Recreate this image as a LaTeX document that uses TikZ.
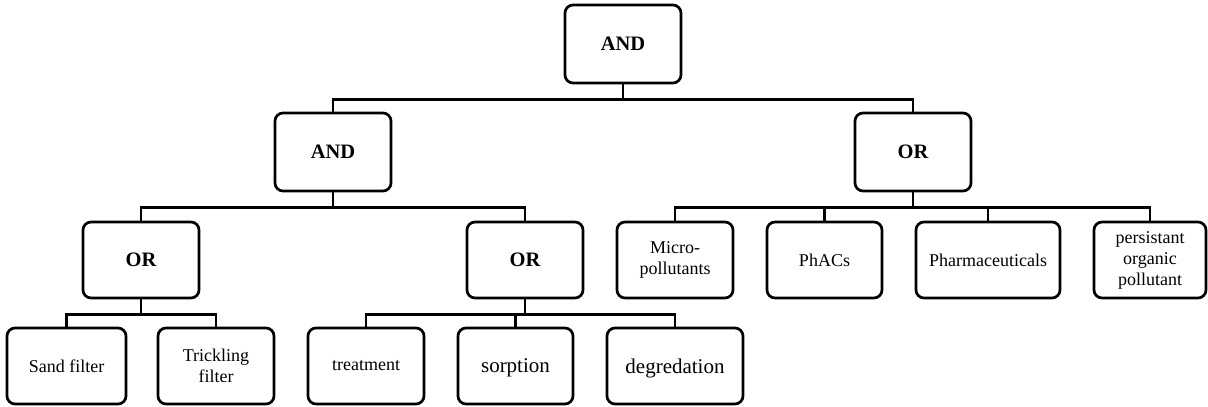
\documentclass[tikz,border=0pt]{standalone}
\usepackage{fontspec}
\setmainfont{Liberation Serif}
\begin{document}
\begin{tikzpicture}[x=1pt,y=-1pt,
  box/.style={draw, line width=2.7pt, rounded corners=8pt, align=center, inner sep=0pt,
    font=\fontsize{18}{21}\selectfont},
  bigbox/.style={box, font=\fontsize{21}{24}\selectfont, text depth=0pt},
  gate/.style={box, font=\fontsize{20.5}{24}\selectfont\bfseries},
  link/.style={line width=2.7pt, line join=miter}]
\useasboundingbox (0,0) rectangle (1208,407);
% level 1
\node[gate, minimum width=116pt, minimum height=78pt] (a0) at (623,44) {AND};
% level 2
\node[gate, minimum width=116pt, minimum height=78pt] (a1) at (333,152) {AND};
\node[gate, minimum width=116pt, minimum height=78pt] (o1) at (913,152) {OR};
% level 3
\node[gate, minimum width=116pt, minimum height=76pt] (o2) at (141,260) {OR};
\node[gate, minimum width=116pt, minimum height=76pt] (o3) at (525,260) {OR};
\node[box, minimum width=116pt, minimum height=76pt] (m1) at (675,260) {Micro-\\pollutants};
\node[box, minimum width=115pt, minimum height=76pt] (m2) at (824.5,260) {PhACs};
\node[box, minimum width=144pt, minimum height=76pt] (m3) at (988,260) {Pharmaceuticals};
\node[box, minimum width=112pt, minimum height=76pt] (m4) at (1150,260) {persistant\\organic\\pollutant};
% level 4
\node[box, minimum width=119pt, minimum height=76pt] (s1) at (66.5,366) {Sand filter};
\node[box, minimum width=116pt, minimum height=76pt] (s2) at (216,366) {Trickling\\filter};
\node[box, minimum width=116pt, minimum height=76pt] (t1) at (366,366) {treatment};
\node[bigbox, minimum width=115pt, minimum height=76pt] (t2) at (515.5,366) {sorption};
\node[bigbox, minimum width=136pt, minimum height=76pt] (t3) at (675,366) {degredation};
% connectors
\foreach \p/\c in {a0/a1, a0/o1, a1/o2, a1/o3, o1/m1, o1/m2, o1/m3, o1/m4, o2/s1, o2/s2, o3/t1, o3/t2, o3/t3}
  \draw[link] (\p.south) -- ++(0,15) -| (\c.north);
\end{tikzpicture}
\end{document}
